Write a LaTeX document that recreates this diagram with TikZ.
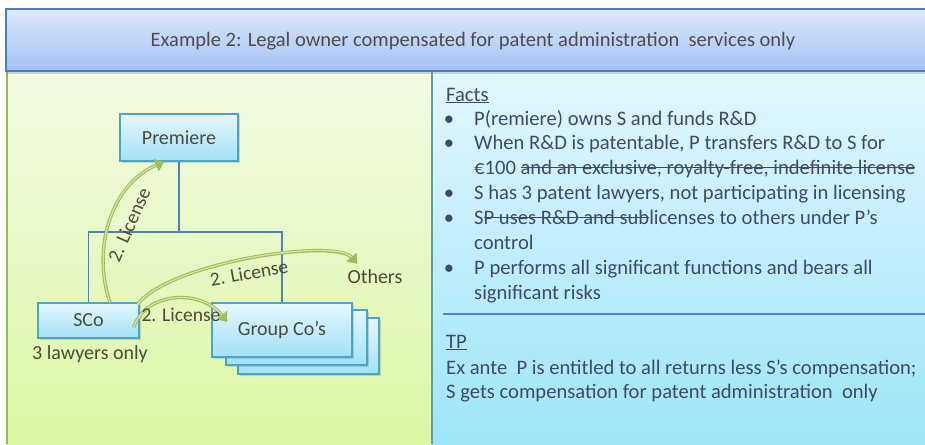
\documentclass[tikz,border=0pt]{standalone}
\usepackage{fontspec}
\setmainfont{Carlito}
\usetikzlibrary{arrows.meta,shadows,calc}

% struck-through text: a rule laid over the box of the words
\newsavebox{\strkbox}
\newcommand{\mystrike}[1]{\sbox{\strkbox}{#1}\rlap{\raisebox{0.27em}{\rule{\wd\strkbox}{0.065em}}}\usebox{\strkbox}}

\definecolor{hdTop}{HTML}{DFE9FB}
\definecolor{hdBot}{HTML}{A2C0F4}
\definecolor{hdEdge}{HTML}{4A7EBB}
\definecolor{lpTop}{HTML}{F2FAE3}
\definecolor{lpBot}{HTML}{DCF7A5}
\definecolor{lpEdge}{HTML}{9BBB59}
\definecolor{rpTop}{HTML}{E2F7FD}
\definecolor{rpBot}{HTML}{9EE5FA}
\definecolor{divider}{HTML}{5E9FA8}
\definecolor{boxTop}{HTML}{E4F7FD}
\definecolor{boxBot}{HTML}{A3E1F8}
\definecolor{boxEdge}{HTML}{4BA5C8}
\definecolor{orgLine}{HTML}{4F81BD}
\definecolor{diagText}{HTML}{4B4B3A}
\definecolor{factText}{HTML}{3F4A6B}
\definecolor{hdText}{HTML}{4D4D4D}
\definecolor{arrOuter}{HTML}{9EBD5C}
\definecolor{arrInner}{HTML}{D3E6A0}

\tikzset{
  orgbox/.style={draw=boxEdge, line width=1.3pt, top color=boxTop, bottom color=boxBot,
    text=diagText, font=\fontsize{20}{24}\selectfont, inner sep=0pt,
    drop shadow={opacity=0.3, shadow xshift=2pt, shadow yshift=-2pt}},
  orgline/.style={draw=orgLine, line width=1.2pt},
  plain/.style={text=diagText, font=\fontsize{20}{24}\selectfont, inner sep=0pt},
  licout/.style={draw=arrOuter, line width=3.4pt,
    -{Triangle[length=9pt,width=13pt]}},
  licin/.style={draw=arrInner, line width=1.3pt, shorten >=9pt},
  lic/.style={text=diagText, font=\fontsize{19.5}{22}\selectfont, inner sep=0pt},
  fact/.style={text=factText, font=\fontsize{20.6}{24}\selectfont, inner sep=0pt, anchor=base west},
  bul/.style={text=factText, font=\fontsize{20.6}{24}\selectfont, inner sep=0pt, anchor=base}
}

\begin{document}
\begin{tikzpicture}[x=1pt, y=-1pt]
\useasboundingbox (0,0) rectangle (925,444);

% left and right panels
\fill[top color=lpTop, bottom color=lpBot] (6,71) rectangle (432,444);
\draw[lpEdge, line width=2pt] (7,71) -- (7,444);
\fill[top color=rpTop, bottom color=rpBot] (432,71) rectangle (925,444);
\draw[divider, line width=1.5pt] (432,71) -- (432,444);

% title bar
\draw[hdEdge, line width=1.5pt, top color=hdTop, bottom color=hdBot,
  drop shadow={opacity=0.3, shadow xshift=0pt, shadow yshift=-3pt}] (6,9) rectangle (935,71);
\node[text=hdText, font=\fontsize{20.5}{24}\selectfont, inner sep=0pt, anchor=base] (title) at (473,47)
  {Example 2: Legal owner compensated for patent administration\ \ services only};

% organisation chart
\node[orgbox, minimum width=118pt, minimum height=47pt] (prem) at (179,137.5) {Premiere};
\node[orgbox, minimum width=101pt, minimum height=35pt] (sco) at (88.5,320.5) {SCo};
\node[orgbox, minimum width=141pt, minimum height=56pt] (grp3) at (308.5,346) {};
\node[orgbox, minimum width=141pt, minimum height=55pt] (grp2) at (296.5,337.5) {};
\node[orgbox, minimum width=140pt, minimum height=54pt] (grp) at (282,330) {Group Co’s};
\node[plain, anchor=base] (others) at (375,283) {Others};
\node[plain, anchor=base] (lawyers) at (90,359) {3 lawyers only};

\coordinate (bus) at (179,232);
\draw[orgline] (prem.south) -- (bus);
\draw[orgline] (sco.north) |- (bus) -| (grp.north);

% licence flows
\coordinate (a1s) at ([xshift=21.5pt]sco.north);
\coordinate (a1e) at ([xshift=45pt]prem.south west);
\coordinate (a2s) at ($(sco.north east)+(-2,2)$);
\coordinate (a2e) at ($(others.north west)+(10,-5)$);
\coordinate (a3s) at ($(sco.east)+(-6,7)$);
\coordinate (a3e) at ($(grp.west)+(16,-8)$);

\foreach \sty in {licout,licin}{
  \draw[\sty] (a1s) .. controls (92,250) and (110,185) .. (a1e);
  \draw[\sty] (a2s) .. controls (170,262) and (335,238) .. (a2e);
  \draw[\sty] (a3s) .. controls (145,292) and (200,288) .. (a3e);
}

\node[lic, rotate=66] (l1) at (129,225) {2. License};
\node[lic, rotate=10] (l2) at (249,273) {2. License};
\node[lic] (l3) at (181,315) {2. License};

% facts
\node[fact] (facts) at (446,101) {\underline{Facts}};
\node[bul] (b1) at (449,125) {•};
\node[fact] (f1) at (474,125) {P(remiere) owns S and funds R\&D};
\node[bul] (b2) at (449,149) {•};
\node[fact] (f2) at (474,149) {When R\&D is patentable, P transfers R\&D to S for};
\node[fact] (f3) at (474,174) {€100 \mystrike{and an exclusive, royalty-free, indefinite license}};
\node[bul] (b3) at (449,199) {•};
\node[fact] (f4) at (474,199) {S has 3 patent lawyers, not participating in licensing};
\node[bul] (b4) at (449,224) {•};
\node[fact] (f5) at (474,224) {S\mystrike{P uses R\&D and sub}licenses to others under P’s};
\node[fact] (f6) at (474,249) {control};
\node[bul] (b5) at (449,274) {•};
\node[fact] (f7) at (474,274) {P performs all significant functions and bears all};
\node[fact] (f8) at (474,299) {significant risks};

\draw[orgline] (443,314) -- (925,314);

% transfer pricing
\node[fact] (tp) at (446,348) {\underline{TP}};
\node[fact] (tp1) at (446,374) {Ex ante\ \ P is entitled to all returns less S’s compensation;};
\node[fact] (tp2) at (446,398) {S gets compensation for patent administration\ \ only};
\end{tikzpicture}
\end{document}
